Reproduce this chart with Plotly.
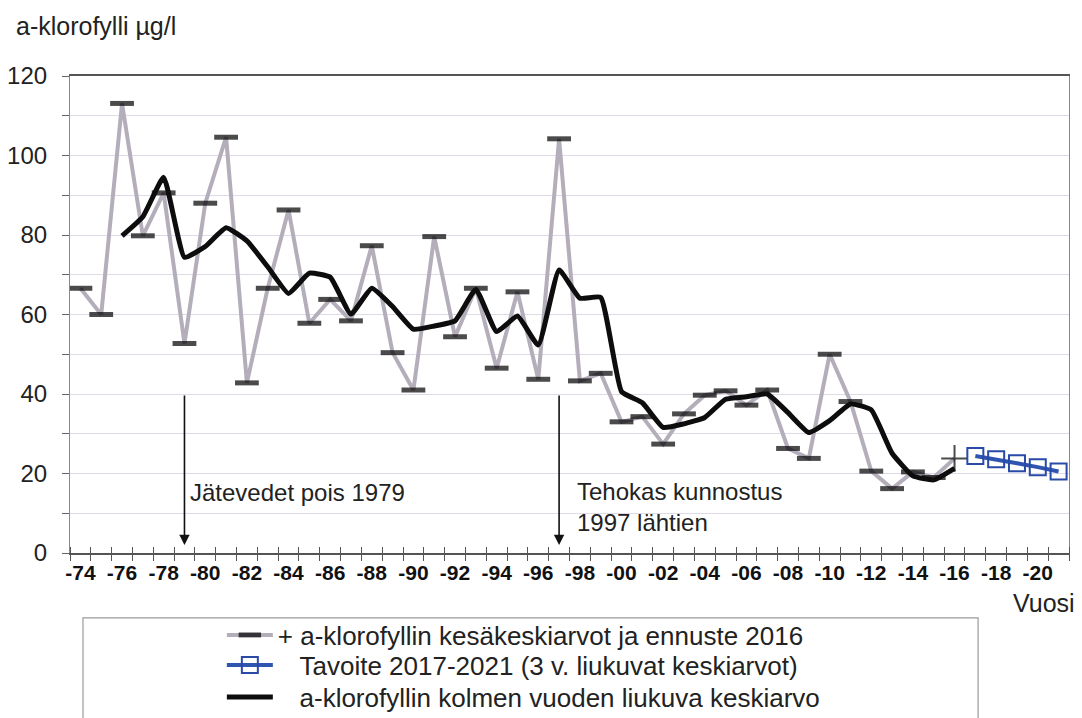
import plotly.graph_objects as go

# ---------------- data ----------------
years_obs = list(range(1974, 2017))
summer_means = [66.6, 60.0, 113.1, 79.8, 90.6, 52.7, 88.0, 104.6, 42.8, 66.6,
                86.3, 57.8, 63.8, 58.4, 77.3, 50.4, 41.0, 79.6, 54.4, 66.6,
                46.5, 65.7, 43.7, 104.2, 43.3, 45.2, 33.0, 34.3, 27.4, 35.0,
                39.7, 40.8, 37.2, 41.0, 26.3, 23.8, 50.0, 38.1, 20.6, 16.2,
                20.4, 19.0, 23.8]

years_avg = list(range(1976, 2017))
moving_avg = [79.8, 84.6, 94.5, 74.4, 77.1, 81.8, 78.5, 72.0, 65.3, 70.4,
              69.4, 60.1, 66.6, 62.0, 56.3, 57.1, 58.4, 66.3, 55.7, 59.6,
              52.3, 71.2, 64.1, 64.3, 40.6, 37.8, 31.6, 32.5, 34.1, 38.7,
              39.3, 40.0, 35.3, 30.3, 33.3, 37.5, 36.0, 25.1, 19.4, 18.4, 21.3]

years_target = [2017, 2018, 2019, 2020, 2021]
target = [24.4, 23.6, 22.6, 21.6, 20.5]

tick_years = list(range(1974, 2021, 2))
tick_labels = ["-" + str(y)[2:] for y in tick_years]

name_obs = "+ a-klorofyllin kesäkeskiarvot ja ennuste 2016"
name_target = "\u00a0\u00a0\u00a0Tavoite 2017-2021 (3 v. liukuvat keskiarvot)"
name_avg = "\u00a0\u00a0\u00a0a-klorofyllin kolmen vuoden liukuva keskiarvo"

FONT = "Liberation Sans, Arial, sans-serif"

# marker styles: dash for measured years, cross for the 2016 forecast
sym = ["line-ew"] * (len(years_obs) - 1) + ["cross-thin"]
msize = [17] * (len(years_obs) - 1) + [19]
mlw = [5] * (len(years_obs) - 1) + [2]

fig = go.Figure()

fig.add_trace(go.Scatter(
    x=years_obs, y=summer_means, name=name_obs, mode="lines+markers",
    line=dict(color="#b4aebb", width=4),
    marker=dict(symbol=sym, size=msize, color="#000000",
                line=dict(color="#000000", width=mlw)),
    legend="legend",
))

fig.add_trace(go.Scatter(
    x=years_avg, y=moving_avg, name=name_avg, mode="lines",
    line=dict(color="#0d0d0d", width=5, shape="spline", smoothing=0.4),
    legend="legend3",
))

fig.add_trace(go.Scatter(
    x=years_target, y=target, name=name_target, mode="lines+markers",
    line=dict(color="#2f55b0", width=4),
    marker=dict(symbol="square-open", size=16, color="#2a4aa8",
                line=dict(color="#2a4aa8", width=2)),
    legend="legend2",
))

# invisible helper trace so the overlay axis (inward tick halves) is drawn
fig.add_trace(go.Scatter(x=[], y=[], xaxis="x2", showlegend=False,
                         hoverinfo="skip"))

LEG_X = 0.152
leg_common = dict(x=LEG_X, xanchor="left", yanchor="middle",
                  bgcolor="rgba(0,0,0,0)", borderwidth=0,
                  font=dict(family=FONT, size=26, color="#222222"),
                  itemwidth=46)

fig.update_layout(
    width=1074, height=710,
    margin=dict(l=62, r=13, t=68, b=165, pad=0, autoexpand=False),
    paper_bgcolor="white", plot_bgcolor="white",
    font=dict(family=FONT, size=24, color="#222222"),
    showlegend=True,
    legend=dict(y=-0.172, **leg_common),
    legend2=dict(y=-0.235, **leg_common),
    legend3=dict(y=-0.302, **leg_common),
    xaxis=dict(
        range=[1973.5, 2021.5], tickmode="array", tickvals=tick_years,
        ticktext=tick_labels, ticks="", showgrid=False,
        tickfont=dict(family=FONT, size=21, color="#111111", weight="bold"),
        showline=True, linecolor="#555555", linewidth=1.5, mirror=True,
        minor=dict(tick0=1973.5, dtick=1, ticks="outside", ticklen=6,
                   tickcolor="#555555", tickwidth=1.2, showgrid=False),
        zeroline=False,
    ),
    xaxis2=dict(
        overlaying="x", matches="x", range=[1973.5, 2021.5],
        showticklabels=False, ticks="", showgrid=False, showline=False,
        minor=dict(tick0=1973.5, dtick=1, ticks="inside", ticklen=6,
                   tickcolor="#555555", tickwidth=1.2, showgrid=False),
        zeroline=False,
    ),
    yaxis=dict(
        range=[0, 120], dtick=20, tick0=0, ticks="outside", ticklen=7,
        tickcolor="#666666", tickfont=dict(family=FONT, size=24, color="#222222"),
        showgrid=True, gridcolor="#dedae8", gridwidth=1,
        minor=dict(dtick=10, ticks="outside", ticklen=7, tickcolor="#666666",
                   showgrid=True, gridcolor="#dedae8"),
        showline=True, linecolor="#888888", linewidth=1.2, mirror=True,
        zeroline=False, ticklabelstandoff=10,
    ),
)

# legend frame
fig.add_shape(type="rect", xref="paper", yref="paper",
              x0=0.013, x1=0.909, y0=-0.136, y1=-0.6,
              line=dict(color="#9a9a9a", width=1.2), fillcolor="rgba(0,0,0,0)",
              layer="below")

# axis titles
fig.add_annotation(text="a-klorofylli µg/l", xref="paper", yref="paper",
                   x=-0.056, y=1.104, xanchor="left", yanchor="middle",
                   showarrow=False, font=dict(family=FONT, size=25, color="#222222"))
fig.add_annotation(text="Vuosi", xref="paper", yref="paper",
                   x=1.008, y=-0.105, xanchor="right", yanchor="middle",
                   showarrow=False, font=dict(family=FONT, size=25, color="#222222"))

# arrows
for yr in (1979, 1997):
    fig.add_annotation(x=yr, y=2, ax=yr, ay=40, xref="x", yref="y",
                       axref="x", ayref="y", text="", showarrow=True,
                       arrowhead=2, arrowsize=1.3, arrowwidth=1.6,
                       arrowcolor="#111111")

fig.add_annotation(text="Jätevedet pois 1979", x=1979.17, y=15.1,
                   xref="x", yref="y", xanchor="left", yanchor="middle",
                   showarrow=False, font=dict(family=FONT, size=24, color="#222222"))
fig.add_annotation(text="Tehokas kunnostus<br>1997 lähtien", x=1997.78, y=11.6,
                   xref="x", yref="y", xanchor="left", yanchor="middle",
                   align="left", showarrow=False,
                   font=dict(family=FONT, size=24, color="#222222"))

fig.write_html("out.html")
